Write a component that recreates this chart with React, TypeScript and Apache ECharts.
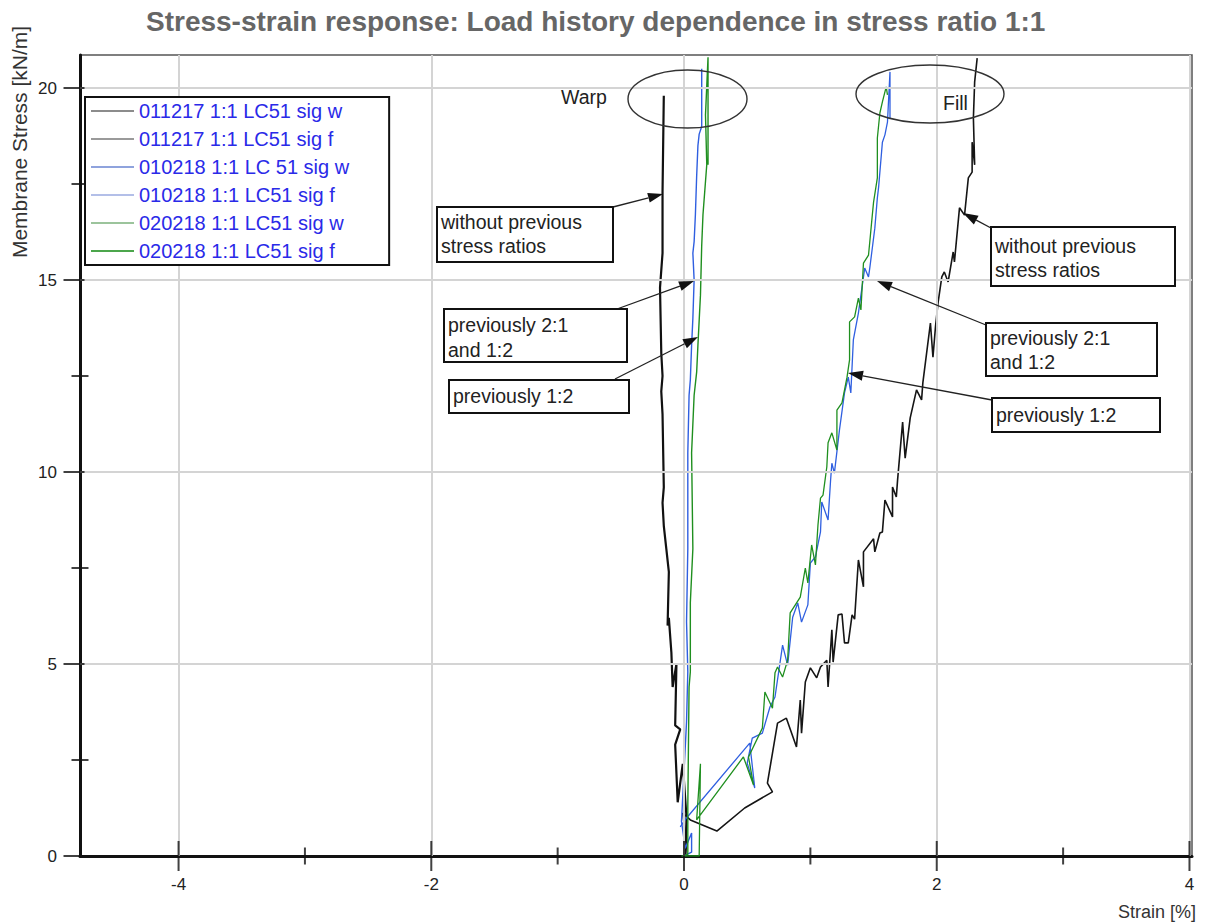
import React, { useEffect, useRef } from "react";
import * as echarts from "echarts";

const seriesNames = [
  "011217 1:1 LC51 sig w",
  "011217 1:1 LC51 sig f",
  "010218 1:1 LC 51 sig w",
  "010218 1:1 LC51 sig f",
  "020218 1:1 LC51 sig w",
  "020218 1:1 LC51 sig f",
];
const lineColors = ["#111111", "#151515", "#2f5fe0", "#2f5fe0", "#1f8f1f", "#1f8f1f"];
const lineWidths = [2.2, 1.6, 1.4, 1.3, 1.4, 1.3];
const legendColors = ["#8c8c8c", "#9a9a9a", "#8fa3dd", "#b3bfe8", "#9cc49c", "#4ca64c"];

// strain [%], membrane stress [kN/m]
const s011217w = [
  [0.01, 0.0], [0.02, 1.0], [-0.01, 2.4], [-0.05, 1.4], [-0.07, 2.9], [-0.03, 3.3], [-0.07, 3.4],
  [-0.06, 5.0], [-0.09, 4.4], [-0.1, 5.3], [-0.12, 6.2], [-0.13, 6.0], [-0.12, 7.4], [-0.14, 8.0],
  [-0.16, 8.6], [-0.17, 9.2], [-0.16, 9.6], [-0.17, 11.5], [-0.18, 12.1], [-0.17, 12.5], [-0.18, 13.1],
  [-0.19, 14.8], [-0.17, 15.7], [-0.17, 17.3], [-0.16, 19.8],
];
const s011217f = [
  [0.01, 0.0], [0.02, 0.3], [-0.01, 1.12], [0.05, 0.94], [0.26, 0.65], [0.48, 1.25], [0.7, 1.67],
  [0.66, 1.9], [0.7, 2.68], [0.74, 3.46], [0.81, 3.59], [0.89, 2.84], [0.92, 4.06], [0.93, 3.2],
  [0.96, 4.53], [1.0, 4.9], [1.05, 4.64], [1.08, 4.92], [1.13, 5.1], [1.14, 4.4], [1.17, 5.89],
  [1.18, 5.05], [1.22, 6.28], [1.25, 6.3], [1.27, 5.55], [1.3, 5.55], [1.33, 6.28], [1.35, 6.17],
  [1.38, 7.71], [1.42, 7.01], [1.42, 7.92], [1.5, 8.26], [1.51, 7.92], [1.55, 8.41], [1.57, 8.44],
  [1.59, 9.27], [1.65, 8.83], [1.65, 9.61], [1.68, 9.35], [1.69, 9.79], [1.73, 11.3], [1.75, 10.36],
  [1.79, 11.41], [1.84, 12.14], [1.88, 11.88], [1.89, 12.32], [1.95, 13.88], [1.97, 12.99],
  [1.99, 13.78], [2.01, 14.4], [2.04, 15.08], [2.06, 15.21], [2.09, 14.95], [2.13, 15.73],
  [2.14, 15.47], [2.18, 16.88], [2.22, 16.69], [2.25, 17.66], [2.28, 17.81], [2.28, 18.59],
  [2.3, 18.0], [2.29, 19.22], [2.3, 20.16], [2.32, 20.78],
];
const s010218w = [
  [0.0, 0.0], [0.06, 0.1], [0.06, 0.6], [0.01, 0.2], [-0.02, 0.9], [0.02, 3.5], [0.03, 4.8],
  [0.02, 6.1], [0.03, 8.0], [0.03, 10.5], [0.04, 12.0], [0.05, 12.4], [0.06, 13.3], [0.07, 14.0],
  [0.08, 15.0], [0.07, 15.7], [0.08, 16.0], [0.09, 16.7], [0.1, 17.7], [0.11, 18.5], [0.12, 18.8],
  [0.14, 19.0], [0.14, 20.5],
];
const s010218f = [
  [-0.03, 0.76], [0.02, 0.99], [0.52, 2.94], [0.56, 1.77], [0.5, 2.42], [0.54, 3.07], [0.62, 3.2],
  [0.68, 3.88], [0.72, 4.14], [0.78, 5.49], [0.82, 4.97], [0.86, 6.22], [0.9, 6.59], [0.93, 6.09],
  [0.98, 6.54], [1.0, 7.63], [1.04, 7.79], [1.08, 8.44], [1.09, 9.22], [1.14, 8.75], [1.16, 9.79],
  [1.17, 10.23], [1.19, 9.97], [1.23, 11.09], [1.27, 12.06], [1.3, 12.47], [1.32, 12.06],
  [1.34, 13.44], [1.38, 14.14], [1.43, 15.31], [1.46, 15.08], [1.47, 15.31], [1.51, 16.35],
  [1.53, 17.14], [1.54, 17.42], [1.57, 18.59], [1.59, 18.78], [1.61, 19.11], [1.63, 20.42], [1.63, 19.2],
];
const s020218w = [
  [0.0, 0.0], [0.03, 0.05], [0.03, 1.3], [0.04, 4.4], [0.05, 4.8], [0.05, 6.6], [0.07, 8.0],
  [0.06, 10.5], [0.08, 12.0], [0.1, 12.6], [0.11, 13.3], [0.13, 14.6], [0.14, 15.9], [0.15, 16.7],
  [0.18, 18.0], [0.17, 19.3], [0.19, 20.8], [0.19, 18.0],
];
const s020218f = [
  [-0.02, 0.0], [0.12, 0.0], [0.13, 2.4], [0.1, 0.94], [0.47, 2.58], [0.55, 1.85], [0.51, 2.58],
  [0.62, 3.33], [0.64, 4.27], [0.7, 3.85], [0.72, 4.77], [0.74, 4.92], [0.78, 4.66], [0.82, 5.1],
  [0.84, 6.33], [0.92, 6.74], [0.96, 7.5], [0.98, 7.11], [1.01, 8.1], [1.04, 7.58], [1.06, 8.62],
  [1.08, 9.32], [1.1, 9.4], [1.13, 10.13], [1.14, 10.76], [1.17, 11.02], [1.21, 10.57], [1.21, 11.61],
  [1.25, 11.8], [1.29, 12.47], [1.31, 12.92], [1.31, 13.91], [1.35, 14.04], [1.38, 14.53],
  [1.4, 14.22], [1.42, 15.44], [1.46, 15.65], [1.47, 15.99], [1.49, 16.69], [1.5, 17.03],
  [1.53, 17.66], [1.53, 18.7], [1.55, 19.35], [1.57, 19.64], [1.6, 20.03], [1.61, 19.82],
];
const allSeries = [s011217w, s011217f, s010218w, s010218f, s020218w, s020218f];

const xMin = -4.78;
const xMax = 4.02;
const yMin = 0;
const yMax = 20.86;
const xMajorTicks = [-4, -2, 0, 2, 4];
const xMinorTicks = [-3, -1, 1, 3];
const yMajorTicks = [0, 5, 10, 15, 20];
const yMinorTicks = [2.5, 7.5, 12.5, 17.5];

const FONT = "'Liberation Sans', Arial, sans-serif";
const ANN = `19.5px ${FONT}`;

function arrow(x1: number, y1: number, x2: number, y2: number) {
  const dx = x2 - x1, dy = y2 - y1;
  const L = Math.sqrt(dx * dx + dy * dy);
  const ux = dx / L, uy = dy / L;
  const hl = 15, hw = 5;
  const bx = x2 - ux * hl, by = y2 - uy * hl;
  return [
    { type: "line", shape: { x1, y1, x2: bx, y2: by }, style: { stroke: "#222", lineWidth: 1.3 }, z: 60 },
    {
      type: "polygon",
      shape: { points: [[x2, y2], [bx - uy * hw, by + ux * hw], [bx + uy * hw, by - ux * hw]] },
      style: { fill: "#111" },
      z: 60,
    },
  ];
}

function box(x: number, y: number, w: number, h: number, tx: number, ty: number, text: string, lh: number) {
  return [
    { type: "rect", shape: { x, y, width: w, height: h }, style: { fill: "#fff", stroke: "#111", lineWidth: 2 }, z: 61 },
    {
      type: "text", x: tx, y: ty, z: 62,
      style: { text, fill: "#222", font: ANN, lineHeight: lh, verticalAlign: "top", align: "left" },
    },
  ];
}

export default function App() {
  const ref = useRef<HTMLDivElement>(null);
  useEffect(() => {
    if (!ref.current) return;
    const chart = echarts.init(ref.current, null, { renderer: "svg" });
    const lineSeries = allSeries.map((d, i) => ({
      name: seriesNames[i],
      type: "line",
      data: d,
      showSymbol: false,
      symbol: "none",
      z: 3,
      lineStyle: { color: lineColors[i], width: lineWidths[i] },
      itemStyle: { color: lineColors[i] },
    }));
    const tickSeries = [
      { data: xMajorTicks.map((v) => [v, yMin]), symbolSize: [2, 30], symbolOffset: [0, 0] },
      { data: xMinorTicks.map((v) => [v, yMin]), symbolSize: [2, 17], symbolOffset: [0, 0] },
      { data: yMajorTicks.map((v) => [xMin, v]), symbolSize: [21, 2], symbolOffset: [-6, 0] },
      { data: yMinorTicks.map((v) => [xMin, v]), symbolSize: [17, 2], symbolOffset: [0, 0] },
    ].map((t) => ({
      type: "scatter",
      data: t.data,
      symbol: "rect",
      symbolSize: t.symbolSize,
      symbolOffset: t.symbolOffset,
      itemStyle: { color: "#111" },
      clip: false,
      silent: true,
      z: 6,
    }));
    const gridSeries = {
      type: "line",
      data: [],
      z: 1,
      silent: true,
      markLine: {
        silent: true,
        symbol: ["none", "none"],
        label: { show: false },
        lineStyle: { color: "#d4d4d4", width: 2, type: "solid" },
        data: [
          ...xMajorTicks.map((v) => ({ xAxis: v })),
          ...yMajorTicks.filter((v) => v > 0).map((v) => ({ yAxis: v })),
        ],
      },
    };

    const graphics: any[] = [
      { type: "ellipse", shape: { cx: 687.5, cy: 99, rx: 59.5, ry: 29 }, style: { fill: "none", stroke: "#333", lineWidth: 1.4 }, z: 50 },
      { type: "ellipse", shape: { cx: 930, cy: 94, rx: 74, ry: 29 }, style: { fill: "none", stroke: "#333", lineWidth: 1.4 }, z: 50 },
      { type: "text", x: 561, y: 97, style: { text: "Warp", fill: "#222", font: ANN, verticalAlign: "middle" }, z: 50 },
      { type: "text", x: 943, y: 103, style: { text: "Fill", fill: "#222", font: ANN, verticalAlign: "middle" }, z: 50 },
      ...arrow(613, 207, 663, 194),
      ...arrow(617, 309, 694, 281),
      ...arrow(615, 379, 698, 337),
      ...arrow(991, 228, 963, 213),
      ...arrow(986, 325, 877, 281),
      ...arrow(992, 400, 848, 373),
      ...box(437, 207, 176, 55, 441, 210, "without previous\nstress ratios", 24),
      ...box(444, 309, 183, 53, 448, 312, "previously 2:1\nand 1:2", 25),
      ...box(449, 380, 180, 33, 453, 386, "previously 1:2", 20),
      ...box(991, 227, 184, 59, 995, 234, "without previous\nstress ratios", 24),
      ...box(986, 323, 171, 53, 990, 326, "previously 2:1\nand 1:2", 24),
      ...box(992, 398, 168, 34, 996, 405, "previously 1:2", 20),
      {
        type: "text", x: 19, y: 142, rotation: Math.PI / 2,
        style: { text: "Membrane Stress [kN/m]", fill: "#333", font: `21px ${FONT}`, align: "center", verticalAlign: "middle" },
      },
      {
        type: "text", x: 1196, y: 912,
        style: { text: "Strain [%]", fill: "#333", font: `18px ${FONT}`, align: "right", verticalAlign: "middle" },
      },
    ];

    chart.setOption({
      animation: false,
      backgroundColor: "#ffffff",
      title: {
        text: "Stress-strain response: Load history dependence in stress ratio 1:1",
        left: 141,
        top: 2,
        textStyle: { color: "#666666", fontSize: 28, fontWeight: "bold", fontFamily: FONT },
      },
      grid: {
        left: 80, right: 14, top: 55, bottom: 68,
        show: true, borderColor: "#555", borderWidth: 1.5, backgroundColor: "transparent",
        containLabel: false, outerBoundsMode: "none",
      },
      legend: {
        orient: "vertical",
        left: 85,
        top: 97,
        padding: [4, 40, 4, 6],
        itemGap: 8,
        itemWidth: 43,
        itemHeight: 2,
        borderColor: "#111",
        borderWidth: 2,
        backgroundColor: "#fff",
        z: 20,
        textStyle: { color: "#2a2ae8", fontSize: 20, fontFamily: FONT, lineHeight: 20 },
        data: seriesNames.map((n, i) => ({ name: n, icon: "rect", itemStyle: { color: legendColors[i] } })),
      },
      xAxis: {
        type: "value",
        min: xMin,
        max: xMax,
        axisLine: { show: true, onZero: false, lineStyle: { color: "#111", width: 3 } },
        axisTick: { show: false },
        splitLine: { show: false },
        axisLabel: {
          customValues: xMajorTicks,
          margin: 20,
          color: "#222",
          fontSize: 17,
          fontFamily: FONT,
          showMinLabel: true,
          showMaxLabel: true,
        },
      },
      yAxis: {
        type: "value",
        min: yMin,
        max: yMax,
        axisLine: { show: true, onZero: false, lineStyle: { color: "#111", width: 3 } },
        axisTick: { show: false },
        splitLine: { show: false },
        axisLabel: {
          customValues: yMajorTicks,
          margin: 23,
          color: "#222",
          fontSize: 17,
          fontFamily: FONT,
          showMinLabel: true,
          showMaxLabel: true,
        },
      },
      series: [gridSeries, ...lineSeries, ...tickSeries],
      graphic: graphics,
    });
    return () => chart.dispose();
  }, []);
  return (
    <div
      ref={ref}
      style={{ position: "absolute", left: 0, top: 0, width: 1206, height: 924, background: "#fff" }}
    />
  );
}
